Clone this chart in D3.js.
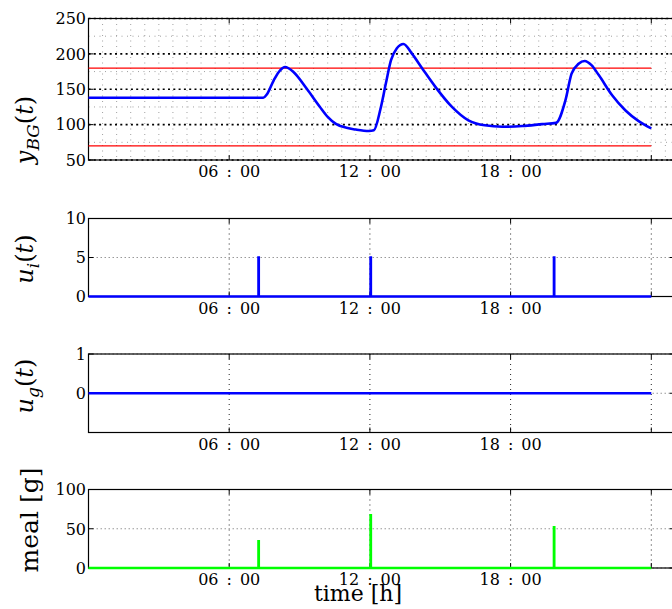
<!DOCTYPE html>
<html><head><meta charset="utf-8">
<script src="https://cdn.jsdelivr.net/npm/d3@7"></script>
<style>body{margin:0;background:#fff}svg{display:block}</style>
</head><body>
<script>
// ---- data ----
const bgTime  = [0, 7.45, 7.6, 7.9, 8.17, 8.38, 8.74, 9.3, 9.87, 10.2, 10.55, 11.0, 11.4, 11.96, 12.17, 12.45, 12.68, 12.9, 13.15, 13.43, 13.8, 14.24, 14.8, 15.5, 16.2, 16.9, 17.65, 18.5, 19.35, 19.94, 20.34, 20.6, 20.9, 21.16, 21.45, 21.76, 22.33, 22.9, 23.46, 24];
const bgValue = [138, 138, 142.5, 162.7, 176.8, 181.4, 174.4, 151, 125, 111, 101, 95.5, 93, 91, 92, 122, 158, 191, 208, 214, 200, 179, 153, 125, 106, 99, 97, 98, 100.7, 102.5, 134.5, 172, 186, 190, 184, 170, 141.5, 120, 105, 94.6];
const hyperLimit = 180;
const hypoLimit = 70;
const insulinTime = [7.25, 12.03, 19.85];
const insulinDose = [5, 5, 5];
const glucagonTime = [0, 24];
const glucagonDose = [0, 0];
const mealTime = [7.25, 12.03, 19.85];
const mealCarbs = [34, 67, 52];
const simEnd = 24;
const timeTicks = [6, 12, 18, 24];
const timeTickLabels = ["06\u2002:\u200200", "12\u2002:\u200200", "18\u2002:\u200200", ""];
const bgTicks = [50, 100, 150, 200, 250];
const bgMinorTicks = [75, 125, 175, 225];
const uiTicks = [0, 5, 10];
const ugTicks = [0, 1];
const mealTicks = [0, 50, 100];

// ---- layout ----
const W = 672, H = 609;
const svg = d3.select("body").append("svg").attr("width", W).attr("height", H);
const x = d3.scaleLinear().domain([0, 25]).range([88.5, 88.5 + 25 * 23.45]);
const FONT = "DejaVu Serif";

function spikes(times, vals) {
  const pts = [[0, 0]];
  times.forEach((t, i) => {
    pts.push([t, 0], [t, vals[i]], [t + 0.01, vals[i]], [t + 0.01, 0]);
  });
  pts.push([simEnd, 0]);
  return pts;
}

function panel(cfg) {
  const g = svg.append("g");
  const y = d3.scaleLinear().domain(cfg.domain).range([cfg.bottom, cfg.top]);
  const x0 = x.range()[0], x1 = x.range()[1];
  if (cfg.minor) {
    const minorX = d3.range(0, 25.001, 0.6).filter(v => v > 0);
    g.selectAll(".mx").data(minorX).enter().append("line")
      .attr("x1", d => x(d)).attr("x2", d => x(d))
      .attr("y1", cfg.top).attr("y2", cfg.bottom)
      .attr("stroke", "#a0a0a0").attr("stroke-width", 1).attr("stroke-dasharray", "1,4.5");
    g.selectAll(".my").data(bgMinorTicks).enter().append("line")
      .attr("x1", x0).attr("x2", x1).attr("y1", d => y(d)).attr("y2", d => y(d))
      .attr("stroke", "#a0a0a0").attr("stroke-width", 1).attr("stroke-dasharray", "1,4.5");
    g.selectAll(".My").data(cfg.ticks).enter().append("line")
      .attr("x1", x0).attr("x2", x1).attr("y1", d => y(d)).attr("y2", d => y(d))
      .attr("stroke", "#000").attr("stroke-width", 1.6).attr("stroke-dasharray", "2,3.3");
  } else {
    g.selectAll(".vx").data(timeTicks).enter().append("line")
      .attr("x1", d => x(d)).attr("x2", d => x(d))
      .attr("y1", cfg.top).attr("y2", cfg.bottom)
      .attr("stroke", "#222").attr("stroke-width", 1).attr("stroke-dasharray", "1,4");
    g.selectAll(".hy").data(cfg.ticks).enter().append("line")
      .attr("x1", x0).attr("x2", x1).attr("y1", d => y(d)).attr("y2", d => y(d))
      .attr("stroke", "#999").attr("stroke-width", 1).attr("stroke-dasharray", "1.5,2.5");
  }
  g.append("rect").attr("x", x0).attr("y", cfg.top).attr("width", x1 - x0).attr("height", cfg.bottom - cfg.top)
    .attr("fill", "none").attr("stroke", "#000").attr("stroke-width", 1.2);
  const tl = 5;
  timeTicks.forEach(t => {
    g.append("line").attr("x1", x(t)).attr("x2", x(t)).attr("y1", cfg.bottom).attr("y2", cfg.bottom - tl).attr("stroke", "#000");
    g.append("line").attr("x1", x(t)).attr("x2", x(t)).attr("y1", cfg.top).attr("y2", cfg.top + tl).attr("stroke", "#000");
  });
  cfg.ticks.forEach(v => {
    g.append("line").attr("x1", x0).attr("x2", x0 + tl).attr("y1", y(v)).attr("y2", y(v)).attr("stroke", "#000");
    g.append("line").attr("x1", x1).attr("x2", x1 - tl).attr("y1", y(v)).attr("y2", y(v)).attr("stroke", "#000");
  });
  cfg.draw(g, y);
  g.selectAll(".xl").data(timeTicks).enter().append("text")
    .attr("x", d => x(d)).attr("y", cfg.bottom + 17)
    .attr("text-anchor", "middle").attr("font-family", FONT).attr("font-size", 16).attr("fill", "#000")
    .text((d, i) => timeTickLabels[i]);
  g.selectAll(".yl").data(cfg.ticks).enter().append("text")
    .attr("x", 86).attr("y", d => y(d)).attr("dy", "0.36em")
    .attr("text-anchor", "end").attr("font-family", FONT).attr("font-size", 16).attr("fill", "#000")
    .text(d => d);
  const lab = g.append("text")
    .attr("transform", `translate(${cfg.labX},${cfg.labY}) rotate(-90)`)
    .attr("text-anchor", "middle").attr("font-family", FONT).attr("font-size", cfg.labSize || 24).attr("fill", "#000");
  cfg.label(lab);
}

function mathLabel(t, base, sub) {
  t.append("tspan").attr("font-style", "italic").text(base);
  t.append("tspan").attr("font-style", "italic").attr("font-size", 17).attr("dy", 6).text(sub);
  t.append("tspan").attr("dy", -6).text("(");
  t.append("tspan").attr("font-style", "italic").text("t");
  t.append("tspan").text(")");
}

const line = d3.line().x(d => x(d[0]));

panel({
  top: 18.5, bottom: 160, domain: [50, 250], ticks: bgTicks, minor: true,
  labX: 33, labY: 130,
  label: t => mathLabel(t, "y", "BG"),
  draw: (g, y) => {
    [hyperLimit, hypoLimit].forEach(v => {
      g.append("line").attr("x1", x(0)).attr("x2", x(simEnd)).attr("y1", y(v)).attr("y2", y(v))
        .attr("stroke", "#ff0000").attr("stroke-width", 1.3);
    });
    const pts = bgTime.map((t, i) => [t, bgValue[i]]);
    g.append("path").attr("d", line.y(d => y(d[1])).curve(d3.curveMonotoneX)(pts))
      .attr("fill", "none").attr("stroke", "#0000ff").attr("stroke-width", 2.6);
  }
});

panel({
  top: 218.5, bottom: 296.5, domain: [0, 10], ticks: uiTicks,
  labX: 33, labY: 259,
  label: t => mathLabel(t, "u", "i"),
  draw: (g, y) => {
    g.append("path").attr("d", line.y(d => y(d[1])).curve(d3.curveLinear)(spikes(insulinTime, insulinDose)))
      .attr("fill", "none").attr("stroke", "#0000ff").attr("stroke-width", 2.6);
  }
});

panel({
  top: 354, bottom: 432.5, domain: [-1, 1], ticks: ugTicks,
  labX: 33, labY: 386,
  label: t => mathLabel(t, "u", "g"),
  draw: (g, y) => {
    const pts = glucagonTime.map((t, i) => [t, glucagonDose[i]]);
    g.append("path").attr("d", line.y(d => y(d[1])).curve(d3.curveLinear)(pts))
      .attr("fill", "none").attr("stroke", "#0000ff").attr("stroke-width", 2.6);
  }
});

panel({
  top: 489.5, bottom: 568, domain: [0, 100], ticks: mealTicks,
  labX: 38, labY: 520, labSize: 25,
  label: t => t.text("meal [g]"),
  draw: (g, y) => {
    g.append("path").attr("d", line.y(d => y(d[1])).curve(d3.curveLinear)(spikes(mealTime, mealCarbs)))
      .attr("fill", "none").attr("stroke", "#00ff00").attr("stroke-width", 2.6);
  }
});

svg.append("text").attr("x", 358).attr("y", 601).attr("text-anchor", "middle")
  .attr("font-family", FONT).attr("font-size", 22).attr("fill", "#000").text("time [h]");
</script>
</body></html>
